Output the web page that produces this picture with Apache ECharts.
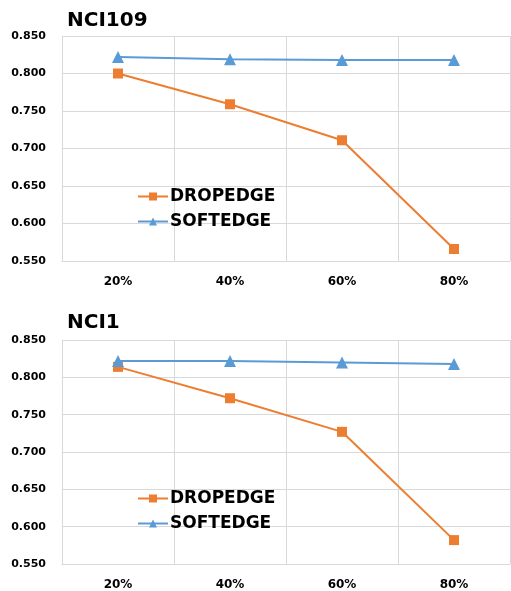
<!DOCTYPE html>
<html>
<head>
<meta charset="utf-8">
<script src="https://cdn.jsdelivr.net/npm/echarts@6/dist/echarts.min.js"></script>
<style>
html, body { margin: 0; padding: 0; background: #fff; }
#chart { width: 511px; height: 591px; }
</style>
</head>
<body>
<div id="chart"></div>
<script>
var categories = ['20%', '40%', '60%', '80%'];
var nci109_drop = [0.800, 0.759, 0.711, 0.566];
var nci109_soft = [0.822, 0.819, 0.818, 0.818];
var nci1_drop = [0.814, 0.772, 0.727, 0.582];
var nci1_soft = [0.822, 0.822, 0.820, 0.818];

var orange = '#ED7D31';
var blue = '#5B9BD5';
var font = 'DejaVu Sans';

function make_x_axis(idx) {
    return {
        type: 'category',
        gridIndex: idx,
        data: categories,
        boundaryGap: true,
        axisLine: { lineStyle: { color: '#d9d9d9', width: 1 } },
        axisTick: { show: false },
        splitLine: { show: true, lineStyle: { color: '#d9d9d9', width: 1 } },
        axisLabel: { color: '#000', fontWeight: 'bold', fontSize: 12, fontFamily: font, margin: 15 }
    };
}

function make_y_axis(idx) {
    return {
        type: 'value',
        gridIndex: idx,
        min: 0.55,
        max: 0.85,
        interval: 0.05,
        axisLine: { show: false },
        axisTick: { show: false },
        splitLine: { lineStyle: { color: '#d9d9d9', width: 1 } },
        axisLabel: {
            color: '#000', fontWeight: 'bold', fontSize: 11, fontFamily: font, margin: 16,
            formatter: function (v) { return v.toFixed(3); }
        }
    };
}

function make_series(name, data, idx, color, symbol) {
    return {
        name: name,
        type: 'line',
        xAxisIndex: idx,
        yAxisIndex: idx,
        data: data,
        symbol: symbol,
        symbolSize: symbol == 'rect' ? 10 : 12,
        lineStyle: { color: color, width: 2 },
        itemStyle: { color: color },
        animation: false
    };
}

function make_legend(top) {
    return {
        orient: 'vertical',
        left: 132,
        top: top,
        itemWidth: 30,
        itemHeight: 10,
        itemGap: 8,
        data: ['DROPEDGE', 'SOFTEDGE'],
        textStyle: { color: '#000', fontWeight: 'bold', fontSize: 17, fontFamily: font, padding: [0, 0, 0, -3] }
    };
}

var chart = echarts.init(document.getElementById('chart'));
chart.setOption({
    backgroundColor: '#fff',
    animation: false,
    title: [
        { text: 'NCI109', left: 62, top: 6, textStyle: { fontSize: 20, fontWeight: 'bold', fontFamily: font, color: '#000' } },
        { text: 'NCI1', left: 62, top: 308, textStyle: { fontSize: 20, fontWeight: 'bold', fontFamily: font, color: '#000' } }
    ],
    legend: [make_legend(183), make_legend(485)],
    grid: [
        { left: 62, top: 36, width: 448, height: 225 },
        { left: 62, top: 340, width: 448, height: 225 }
    ],
    xAxis: [make_x_axis(0), make_x_axis(1)],
    yAxis: [make_y_axis(0), make_y_axis(1)],
    series: [
        make_series('DROPEDGE', nci109_drop, 0, orange, 'rect'),
        make_series('SOFTEDGE', nci109_soft, 0, blue, 'triangle'),
        make_series('DROPEDGE', nci1_drop, 1, orange, 'rect'),
        make_series('SOFTEDGE', nci1_soft, 1, blue, 'triangle')
    ]
});
</script>
</body>
</html>
